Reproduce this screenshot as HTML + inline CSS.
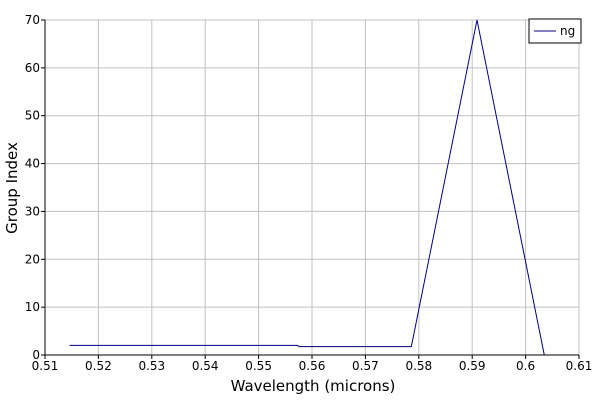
<!DOCTYPE html>
<html><head><meta charset="utf-8"><style>
body{margin:0;background:#fff;}
svg{font-family:"DejaVu Sans","Liberation Sans",sans-serif;}
</style></head><body>
<svg id="chart" width="600" height="400">
<g id="grid"></g><g id="axes"></g><g id="series"></g>
<text x="313" y="391" font-size="15" text-anchor="middle">Wavelength (microns)</text>
<text transform="translate(17,188) rotate(-90)" font-size="15" text-anchor="middle">Group Index</text>
<g>
<rect x="529" y="19" width="52" height="24" fill="#fff" stroke="#000"/>
<line x1="534" y1="31" x2="556" y2="31" stroke="#000080"/>
<text x="560" y="35" font-size="12">ng</text>
</g>
</svg>
<script>
const xTicks=[0.51,0.52,0.53,0.54,0.55,0.56,0.57,0.58,0.59,0.6,0.61];
const xTickLabels=["0.51","0.52","0.53","0.54","0.55","0.56","0.57","0.58","0.59","0.6","0.61"];
const yTicks=[0,10,20,30,40,50,60,70];
const wavelengths=[0.5146,0.5573,0.5576,0.5786,0.5909,0.6035];
const ngValues=[2.0,2.0,1.75,1.75,70,0];
const L=45,R=579,T=20,B=355;
function xs(v){return L+(v-0.51)/0.1*(R-L);}
function ys(v){return B-v/70*(B-T);}
const NS="http://www.w3.org/2000/svg";
function mk(t,a,p){const e=document.createElementNS(NS,t);for(const k in a)e.setAttribute(k,a[k]);p.appendChild(e);return e;}
const grid=document.getElementById('grid'),axes=document.getElementById('axes'),series=document.getElementById('series');
xTicks.forEach((t,i)=>{
 const x=xs(t);
 const g=mk('line',{x1:x,x2:x,y1:T,y2:B,stroke:'#c0c0c0'},grid);
 
 
 const tk=mk('line',{x1:x,x2:x,y1:B,y2:B+4,stroke:'#000'},axes);
 
 
 const tx=mk('text',{x:x,y:B+15,'font-size':12,'text-anchor':'middle'},axes);
 tx.textContent=xTickLabels[i];
 
 
});
yTicks.forEach(t=>{
 const y=ys(t);
 const g=mk('line',{x1:L,x2:R,y1:y,y2:y,stroke:'#c0c0c0'},grid);
 
 
 const tk=mk('line',{x1:L-4,x2:L,y1:y,y2:y,stroke:'#000'},axes);
 
 
 const tx=mk('text',{x:L-5,y:y+4,'font-size':12,'text-anchor':'end'},axes);
 tx.textContent=String(t);
 
 
});
const xa=mk('line',{x1:L,x2:R,y1:B,y2:B,stroke:'#000'},axes);


const ya=mk('line',{x1:L,x2:L,y1:T,y2:B,stroke:'#000'},axes);


const pts=wavelengths.map((w,i)=>xs(w)+','+ys(ngValues[i])).join(' ');
const pl=mk('polyline',{points:pts,fill:'none',stroke:'#000080','stroke-width':1},series);


</script>
</body></html>
